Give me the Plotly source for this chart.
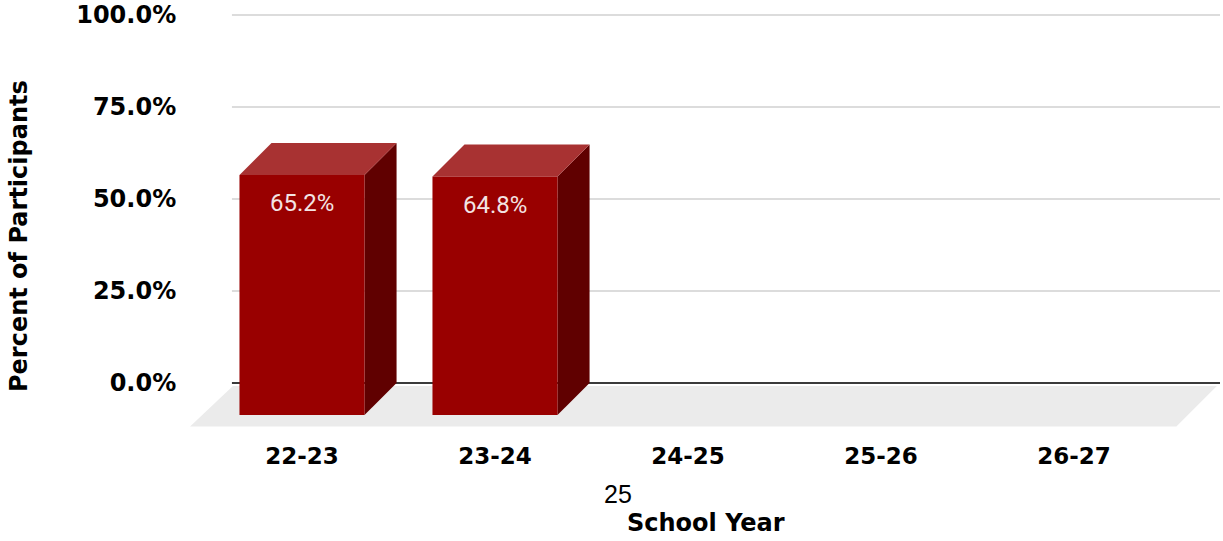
import plotly.graph_objects as go

# ---- data ----
categories = ["22-23", "23-24", "24-25", "25-26", "26-27"]
values = [65.2, 64.8, None, None, None]
label_texts = ["65.2%", "64.8%", None, None, None]
y_ticks = [0, 25, 50, 75, 100]
y_tick_labels = ["0.0%", "25.0%", "50.0%", "75.0%", "100.0%"]

# ---- style constants (3-D look) ----
HALF_W = 0.324      # half width of bar front face (category units)
DX, DY = 0.166, 8.7  # bar depth offset (x units, % units)
FDX, FDY = 0.21, 11.0  # floor depth
X_RANGE = [-0.5803, 4.7565]
Y_RANGE = [-12.77, 101.36]
WALL_LEFT = -0.363

FRONT = "#990000"
TOP = "#a83232"
SIDE = "#600000"
FLOOR = "#ebebeb"

# plot area at x 190..1220, y 10..430
PW, PH = 1030, 420

fig = go.Figure()

# floor
fx_back_l, fx_back_r = WALL_LEFT + 0.005, X_RANGE[1] - 0.016
fy_back = -0.8
fig.add_trace(go.Scatter(
    x=[fx_back_l, fx_back_r, fx_back_r - FDX, fx_back_l - FDX - 0.012, fx_back_l],
    y=[fy_back, fy_back, fy_back - FDY, fy_back - FDY, fy_back],
    mode="lines", fill="toself", fillcolor=FLOOR, line=dict(width=0),
    hoverinfo="skip", showlegend=False))

# bars
for i, (cat, v) in enumerate(zip(categories, values)):
    if v is None:
        continue
    xl, xr = i - HALF_W, i + HALF_W
    # side face
    fig.add_trace(go.Scatter(
        x=[xr, xr + DX, xr + DX, xr, xr],
        y=[v - DY, v, 0, -DY, v - DY],
        mode="lines", fill="toself", fillcolor=SIDE, line=dict(width=0),
        hoverinfo="skip", showlegend=False))
    # top face
    fig.add_trace(go.Scatter(
        x=[xl, xr, xr + DX, xl + DX, xl],
        y=[v - DY, v - DY, v, v, v - DY],
        mode="lines", fill="toself", fillcolor=TOP, line=dict(width=0),
        hoverinfo="skip", showlegend=False))
    # front face
    fig.add_trace(go.Scatter(
        x=[xl, xr, xr, xl, xl],
        y=[-DY, -DY, v - DY, v - DY, -DY],
        mode="lines", fill="toself", fillcolor=FRONT, line=dict(width=0),
        hoverinfo="skip", showlegend=False))
    fig.add_annotation(x=i, y=v - DY, text=label_texts[i], showarrow=False,
                       xanchor="center", yanchor="top", yshift=-12,
                       font=dict(family="Roboto", size=24, color="#f3e4e4"))

# back-wall gridlines
for t in y_ticks:
    if t == 0:
        continue
    fig.add_shape(type="line", xref="x", yref="y", x0=WALL_LEFT, x1=X_RANGE[1],
                  y0=t, y1=t, line=dict(color="#d0d0d0", width=1.5), layer="below")
fig.add_shape(type="line", xref="x", yref="y", x0=WALL_LEFT, x1=X_RANGE[1],
              y0=0, y1=0, line=dict(color="#3a3a3a", width=2), layer="below")

bold = "DejaVu Sans"
fig.update_layout(
    width=1223, height=541,
    margin=dict(l=190, r=3, t=10, b=111),
    paper_bgcolor="white", plot_bgcolor="white",
    xaxis=dict(range=X_RANGE, tickmode="array", tickvals=list(range(len(categories))),
               ticktext=[f"<b>{c}</b>" for c in categories], showgrid=False,
               zeroline=False, showline=False, ticks="outside", ticklen=5,
               tickcolor="rgba(0,0,0,0)", automargin=False,
               tickfont=dict(family=bold, size=23, color="black")),
    yaxis=dict(range=Y_RANGE, tickmode="array", tickvals=y_ticks,
               ticktext=[f"<b>{t}</b>" for t in y_tick_labels], showgrid=False,
               zeroline=False, showline=False, ticks="outside", ticklen=8,
               tickcolor="rgba(0,0,0,0)", automargin=False, ticklabeloverflow="allow",
               tickfont=dict(family=bold, size=24, color="black")),
)

fig.add_annotation(xref="paper", yref="paper", x=(19 - 190) / PW, y=(430 - 236) / PH,
                   xanchor="center", yanchor="middle",
                   text="<b>Percent of Participants</b>", textangle=-90, showarrow=False,
                   font=dict(family=bold, size=24, color="black"))
fig.add_annotation(xref="paper", yref="paper", x=(706 - 190) / PW, y=(430 - 523) / PH,
                   xanchor="center", yanchor="middle",
                   text="<b>School Year</b>", showarrow=False,
                   font=dict(family=bold, size=24, color="black"))
fig.add_annotation(xref="paper", yref="paper", x=(618 - 190) / PW, y=(430 - 494) / PH,
                   xanchor="center", yanchor="middle",
                   text="25", showarrow=False,
                   font=dict(family="Liberation Sans", size=25, color="black"))

fig.write_html("out.html", config={"displayModeBar": False},
               post_script="document.body.style.margin='0';document.body.style.overflow='hidden';")
